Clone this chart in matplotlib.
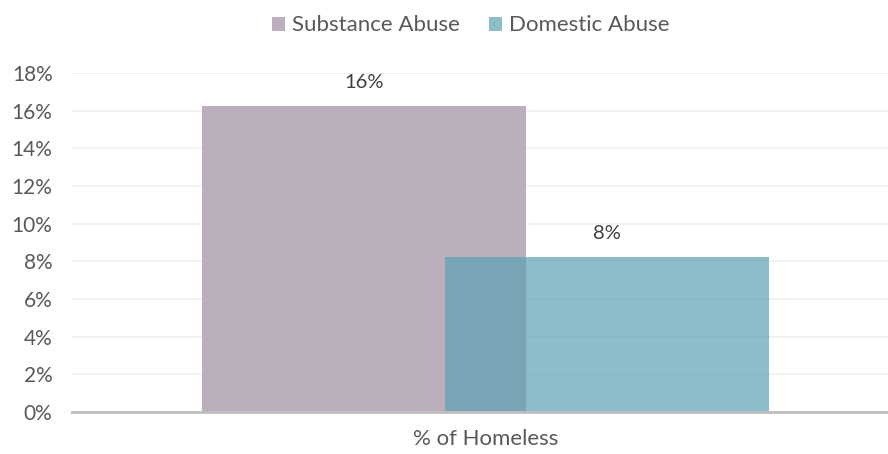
import matplotlib.pyplot as plt
from matplotlib.ticker import FuncFormatter

# data
categories = ["% of Homeless"]
series = ["Substance Abuse", "Domestic Abuse"]
values = [16.25, 8.25]
labels = ["16%", "8%"]
colors = ["#BBAFBD", "#5CA2B2"]
alphas = [1.0, 0.7]

plt.rcParams["font.family"] = ["Lato", "DejaVu Sans"]

fig = plt.figure(figsize=(8.88, 4.54), dpi=100)
ax = fig.add_axes([72 / 888, 42 / 454, 816 / 888, 339 / 454])

width = 0.397
offsets = [-0.149, 0.149]
for name, val, lab, col, a, off in zip(series, values, labels, colors, alphas, offsets):
    ax.bar(off, val, width=width, color=col, alpha=a, label=name, zorder=2)
    ax.text(off, val + 0.8, lab, ha="center", va="bottom", fontsize=14.5, color="#404040")

ax.set_xlim(-0.507, 0.493)
ax.set_ylim(0, 18)
ax.set_yticks(range(0, 19, 2))
ax.yaxis.set_major_formatter(FuncFormatter(lambda v, p: f"{int(v)}%"))
ax.set_xticks([0])
ax.set_xticklabels(categories, fontsize=16)
ax.tick_params(axis="both", length=0, labelcolor="#595959")
ax.tick_params(axis="y", labelsize=15, pad=14)
ax.tick_params(axis="x", pad=12)
ax.grid(axis="y", color="#F0F0F0", linewidth=1.2, zorder=0)
ax.set_axisbelow(True)
for s in ["top", "right", "left"]:
    ax.spines[s].set_visible(False)
ax.spines["bottom"].set_color("#BFBFBF")
ax.spines["bottom"].set_linewidth(2)

leg = fig.legend(loc="upper center", bbox_to_anchor=(0.53, 1.01), ncol=2, frameon=False,
                 fontsize=16, handlelength=0.6, handleheight=0.6, handletextpad=0.3,
                 columnspacing=1.3, labelcolor="#595959")

fig.savefig("out.png", dpi=100)
